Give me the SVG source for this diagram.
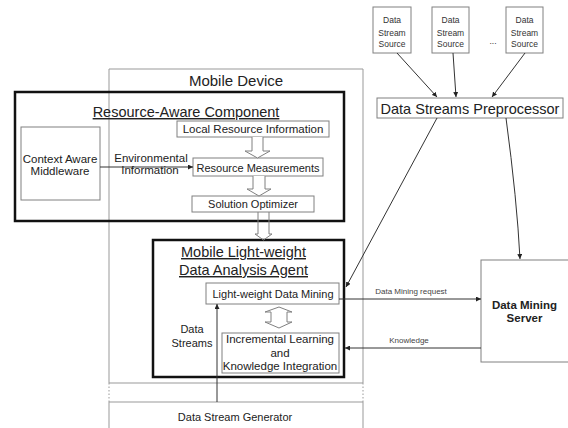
<svg xmlns="http://www.w3.org/2000/svg" width="568" height="428" viewBox="0 0 568 428">
  <style>
    text { font-family: "Liberation Sans", Arial, sans-serif; fill: #222; text-anchor: middle; }
    .thin { fill: #fff; stroke: #808080; stroke-width: 1; }
    .device { fill: none; stroke: #999; stroke-width: 1; }
    .thick { fill: none; stroke: #111; stroke-width: 2.5; }
    .hollow { fill: #fff; stroke: #808080; stroke-width: 1; }
    .link { fill: none; stroke: #333; stroke-width: 1; }
    .title { font-size: 14.5px; text-decoration: underline; }
    .box { font-size: 11px; }
    .lbl { font-size: 11.5px; }
    .small { font-size: 8px; fill: #444; }
    .src { font-size: 8.5px; fill: #333; }
  </style>
  <defs>
    <marker id="head" viewBox="0 0 10 10" refX="10" refY="5" markerWidth="5" markerHeight="5" orient="auto-start-reverse" markerUnits="userSpaceOnUse">
      <path d="M0,0 L10,5 L0,10 Z" fill="#222"/>
    </marker>
  </defs>

  <!-- Mobile device frame with dotted break near the bottom -->
  <g id="mobile-device">
    <line class="device" x1="109" y1="69" x2="363" y2="69"/>
    <line class="device" x1="109" y1="69" x2="109" y2="383"/>
    <line class="device" x1="363" y1="69" x2="363" y2="383"/>
    <line class="device" x1="109" y1="383" x2="109" y2="402" stroke-dasharray="1.5,2"/>
    <line class="device" x1="363" y1="383" x2="363" y2="402" stroke-dasharray="1.5,2"/>
    <line class="device" x1="109" y1="402" x2="109" y2="430"/>
    <line class="device" x1="363" y1="402" x2="363" y2="430"/>
    <line class="device" x1="109" y1="383" x2="363" y2="383"/>
    <line class="device" x1="109" y1="402" x2="363" y2="402"/>
    <text x="236" y="86" style="font-size:15px">Mobile Device</text>
  </g>

  <g id="data-stream-generator">
    <text class="box" x="235" y="421">Data Stream Generator</text>
  </g>

  <!-- Resource-aware component -->
  <g id="resource-aware-component">
    <rect class="thick" x="15" y="92" width="329" height="129"/>
    <text class="title" x="186" y="117">Resource-Aware Component</text>
  </g>

  <g id="context-aware-middleware">
    <rect class="thin" x="21" y="127" width="79" height="73"/>
    <text class="lbl" x="60" y="163">Context Aware</text>
    <text class="lbl" x="60" y="175">Middleware</text>
  </g>

  <g id="local-resource-information">
    <rect class="thin" x="177" y="121" width="152" height="16"/>
    <text class="lbl" x="253" y="133">Local Resource Information</text>
  </g>

  <g id="resource-measurements">
    <rect class="thin" x="193" y="158" width="130" height="18"/>
    <text class="box" x="258" y="171.5">Resource Measurements</text>
  </g>

  <g id="solution-optimizer">
    <rect class="thin" x="192" y="196" width="122" height="16"/>
    <text class="box" x="253" y="208">Solution Optimizer</text>
  </g>

  <!-- Light-weight data analysis agent -->
  <g id="analysis-agent">
    <rect class="thick" x="153" y="240" width="191" height="137"/>
    <text class="title" x="243.5" y="257">Mobile Light-weight</text>
    <text class="title" x="243.5" y="275">Data Analysis Agent</text>
  </g>

  <g id="light-weight-data-mining">
    <rect class="thin" x="206" y="283" width="133" height="21"/>
    <text class="box" x="273" y="298">Light-weight Data Mining</text>
  </g>

  <g id="incremental-learning">
    <rect class="thin" x="222" y="333" width="117" height="40"/>
    <text class="lbl" x="280" y="343">Incremental Learning</text>
    <text class="lbl" x="280" y="357">and</text>
    <text class="lbl" x="280" y="370">Knowledge Integration</text>
  </g>

  <!-- External side -->
  <g id="source-1">
    <rect class="thin" x="373" y="7" width="38" height="46"/>
    <text class="src" x="392" y="23">Data</text>
    <text class="src" x="392" y="35.5">Stream</text>
    <text class="src" x="392" y="47">Source</text>
  </g>
  <g id="source-2">
    <rect class="thin" x="432" y="7" width="37" height="46"/>
    <text class="src" x="450.5" y="23">Data</text>
    <text class="src" x="450.5" y="35.5">Stream</text>
    <text class="src" x="450.5" y="47">Source</text>
  </g>
  <g id="source-n">
    <rect class="thin" x="506" y="7" width="37" height="46"/>
    <text class="src" x="524.5" y="23">Data</text>
    <text class="src" x="524.5" y="35.5">Stream</text>
    <text class="src" x="524.5" y="47">Source</text>
  </g>
  <text class="src" x="493" y="44">...</text>

  <g id="preprocessor">
    <rect class="thin" x="377" y="98" width="186" height="20"/>
    <text x="470" y="113.5" style="font-size:14.5px">Data Streams Preprocessor</text>
  </g>

  <g id="data-mining-server">
    <rect class="thin" x="481" y="260" width="100" height="102"/>
    <text x="524.5" y="309" style="font-size:11.5px;font-weight:bold">Data Mining</text>
    <text x="524.5" y="322" style="font-size:11.5px;font-weight:bold">Server</text>
  </g>

  <!-- Connectors -->
  <g id="connectors">
    <!-- block arrows between components -->
    <path class="hollow" d="M252,137 L252,151 L245,151 L257.5,158 L270,151 L263,151 L263,137"/>
    <path class="hollow" d="M253,176 L253,189 L247,189 L259,196 L271,189 L265,189 L265,176"/>
    <path class="hollow" style="fill:none" d="M258,212 L258,234 L255,234 L263.5,240 L272,234 L269,234 L269,212"/>
    <path class="hollow" d="M279,307 L292,312 L287,312 L287,322 L292,322 L279,328 L265,322 L271,322 L271,312 L265,312 Z"/>

    <!-- environmental information -->
    <line class="link" x1="100" y1="167" x2="193" y2="167" marker-end="url(#head)"/>
    <text class="lbl" x="151" y="162">Environmental</text>
    <text class="lbl" x="150" y="174">Information</text>

    <!-- data streams from the generator -->
    <line class="link" x1="217" y1="402" x2="217" y2="304" marker-end="url(#head)"/>
    <text class="box" x="192" y="333">Data</text>
    <text class="box" x="192" y="347">Streams</text>

    <!-- sources to preprocessor -->
    <line class="link" x1="397" y1="53" x2="437" y2="97" marker-end="url(#head)"/>
    <line class="link" x1="453" y1="53" x2="456" y2="97" marker-end="url(#head)"/>
    <line class="link" x1="525" y1="53" x2="492" y2="97" marker-end="url(#head)"/>

    <!-- preprocessor outputs -->
    <line class="link" x1="437" y1="118" x2="346" y2="287" marker-end="url(#head)"/>
    <path class="link" d="M506,118 Q517,200 520,259" marker-end="url(#head)"/>

    <!-- request / knowledge exchange -->
    <line class="link" x1="339" y1="299" x2="481" y2="299" marker-end="url(#head)"/>
    <text class="small" x="411" y="294">Data Mining request</text>
    <line class="link" x1="481" y1="348" x2="345" y2="348" marker-end="url(#head)"/>
    <text class="small" x="409" y="343">Knowledge</text>
  </g>
</svg>
